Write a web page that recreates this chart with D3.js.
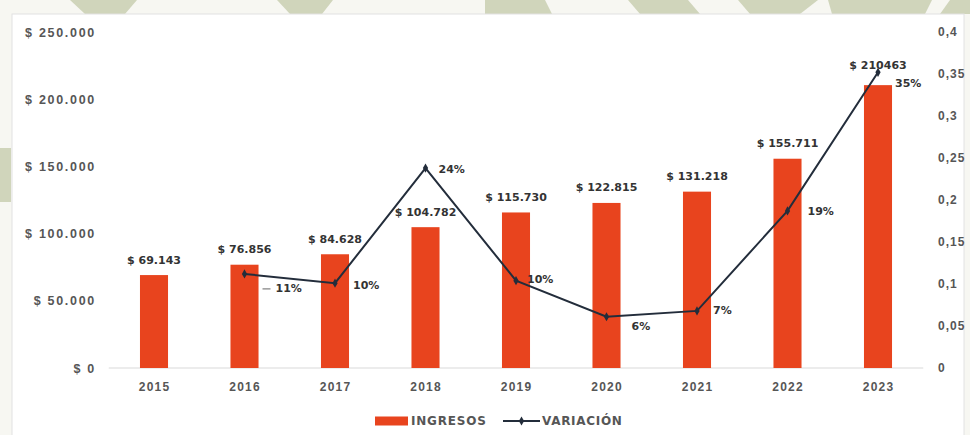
<!DOCTYPE html>
<html><head><meta charset="utf-8">
<script src="https://cdn.jsdelivr.net/npm/d3@7"></script>
<style>body{margin:0;background:#fff;}svg{display:block;font-family:"DejaVu Sans",sans-serif;}</style>
</head><body>
<svg id="c" width="970" height="435"></svg>
<script>
const years = ["2015","2016","2017","2018","2019","2020","2021","2022","2023"];
const ingresos = [69143, 76856, 84628, 104782, 115730, 122815, 131218, 155711, 210463];
const ingresosLabels = ["$ 69.143","$ 76.856","$ 84.628","$ 104.782","$ 115.730","$ 122.815","$ 131.218","$ 155.711","$ 210463"];
const variacion = [null, 0.112, 0.101, 0.238, 0.104, 0.061, 0.068, 0.187, 0.352];
const variacionLabels = ["", "11%", "10%", "24%", "10%", "6%", "7%", "19%", "35%"];
const leftTicks = [0, 50000, 100000, 150000, 200000, 250000];
const leftTickLabels = ["$ 0","$ 50.000","$ 100.000","$ 150.000","$ 200.000","$ 250.000"];
const rightTicks = [0, 0.05, 0.1, 0.15, 0.2, 0.25, 0.3, 0.35, 0.4];
const rightTickLabels = ["0","0,05","0,1","0,15","0,2","0,25","0,3","0,35","0,4"];
const legendLabels = ["INGRESOS", "VARIACIÓN"];

// layout-only nudges for percentage labels (dx, dy in px)
const pctNudge = [null,[31,15],[18,2],[13,1],[11,-1],[25,10],[16,0],[20,1],[17,11]];

const svg = d3.select("#c");
// decorative background strip
svg.append("rect").attr("width",970).attr("height",435).attr("fill","#f7f7f2");
const deco = [
  [[70,0],[137,0],[125,14],[85,14]],
  [[277,0],[333,0],[322,14],[290,14]],
  [[485,0],[545,0],[552,14],[485,14]],
  [[628,0],[688,0],[700,14],[640,14]],
  [[738,0],[818,0],[800,14],[750,14]],
  [[828,0],[932,0],[925,14],[832,14]],
  [[950,0],[970,0],[970,14],[940,14]],
  [[0,148],[11,148],[11,202],[0,202]]
];
svg.selectAll("polygon.deco").data(deco).join("polygon")
  .attr("points", d => d.map(p => p.join(",")).join(" "))
  .attr("fill","#c9cfb1").attr("opacity",0.85);
svg.append("rect").attr("x",12).attr("y",14).attr("width",952).attr("height",430)
  .attr("fill","#ffffff").attr("stroke","#e2e2e2");

const m = {top:32, bottom:368};
const step = 90.5;
const x = d3.scaleBand().domain(years).range([154 - step/2, 878 + step/2]).paddingInner(0.69).paddingOuter(0.345);
const y = d3.scaleLinear().domain([0,250000]).range([m.bottom, m.top]);
const y2 = d3.scaleLinear().domain([0,0.4]).range([m.bottom, m.top]);
const [r0, r1] = x.range();

// baseline
svg.append("line").attr("x1",r0).attr("x2",r1).attr("y1",y(0)).attr("y2",y(0))
  .attr("stroke","#d9d9d9").attr("stroke-width",1);

const tickStyle = (sel, size, ls) => sel.selectAll("text").attr("font-size",size).attr("font-weight",700)
  .attr("letter-spacing",ls).attr("fill","#565656");

// left axis
const la = svg.append("g").attr("transform",`translate(96,0)`)
  .call(d3.axisLeft(y).tickValues(leftTicks).tickFormat((d,i)=>leftTickLabels[i]).tickSize(0).tickPadding(0));
la.select(".domain").remove();
tickStyle(la, 12.5, 1.7);

// right axis
const ra = svg.append("g").attr("transform",`translate(938,0)`)
  .call(d3.axisRight(y2).tickValues(rightTicks).tickFormat((d,i)=>rightTickLabels[i]).tickSize(0).tickPadding(0));
ra.select(".domain").remove();
tickStyle(ra, 12, 1);

// x axis
const xa = svg.append("g").attr("transform",`translate(0,${y(0)+14})`)
  .call(d3.axisBottom(x).tickSize(0).tickPadding(0));
xa.select(".domain").remove();
tickStyle(xa, 12, 1.2);
xa.selectAll("text").attr("dx", 0.6);

// bars
svg.selectAll("rect.bar").data(ingresos).join("rect").attr("class","bar")
  .attr("x",(d,i)=>x(years[i])).attr("width",x.bandwidth())
  .attr("y",d=>y(d)).attr("height",d=>y(0)-y(d)).attr("fill","#e8441e");

// bar labels
svg.selectAll("text.bl").data(ingresos).join("text").attr("class","bl")
  .attr("x",(d,i)=>x(years[i])+x.bandwidth()/2).attr("y",(d,i)=>y(d)-(i===8?20:15))
  .attr("dominant-baseline","central")
  .attr("text-anchor","middle").attr("font-size",11).attr("font-weight",700).attr("fill","#333")
  .text((d,i)=>ingresosLabels[i]);

// line
const pts = variacion.map((v,i)=>({v,i})).filter(d=>d.v!==null);
const cx = d => x(years[d.i]) + x.bandwidth()/2;
svg.append("path").datum(pts)
  .attr("d", d3.line().x(cx).y(d=>y2(d.v)))
  .attr("fill","none").attr("stroke","#232d3b").attr("stroke-width",2);
svg.selectAll("path.mk").data(pts).join("path").attr("class","mk")
  .attr("transform",d=>`translate(${cx(d)},${y2(d.v)})`)
  .attr("d", d3.symbol(d3.symbolDiamond, 24)).attr("fill","#232d3b");
// leader for 2016
const p16 = pts[0];
svg.append("line").attr("x1",cx(p16)+18).attr("x2",cx(p16)+26)
  .attr("y1",y2(p16.v)+15).attr("y2",y2(p16.v)+15).attr("stroke","#666").attr("stroke-width",1);
svg.selectAll("text.vl").data(pts).join("text").attr("class","vl")
  .attr("x",d=>cx(d)+pctNudge[d.i][0]).attr("y",d=>y2(d.v)+pctNudge[d.i][1])
  .attr("dominant-baseline","central")
  .attr("font-size",11).attr("font-weight",700).attr("fill","#333")
  .text(d=>variacionLabels[d.i]);

// legend
const lg = svg.append("g").attr("transform","translate(0,421)");
lg.append("rect").attr("x",375).attr("y",-4.5).attr("width",33).attr("height",9).attr("fill","#e8441e");
lg.append("text").attr("x",411).attr("y",0).attr("dominant-baseline","central").attr("letter-spacing",0.8)
  .attr("font-size",12).attr("font-weight",700).attr("fill","#565656").text(legendLabels[0]);
lg.append("line").attr("x1",503).attr("x2",540).attr("y1",0).attr("y2",0).attr("stroke","#232d3b").attr("stroke-width",2);
lg.append("path").attr("transform","translate(521.5,0)").attr("d",d3.symbol(d3.symbolDiamond,24)).attr("fill","#232d3b");
lg.append("text").attr("x",542).attr("y",0).attr("dominant-baseline","central").attr("letter-spacing",0.7)
  .attr("font-size",12).attr("font-weight",700).attr("fill","#565656").text(legendLabels[1]);
</script>
</body></html>
